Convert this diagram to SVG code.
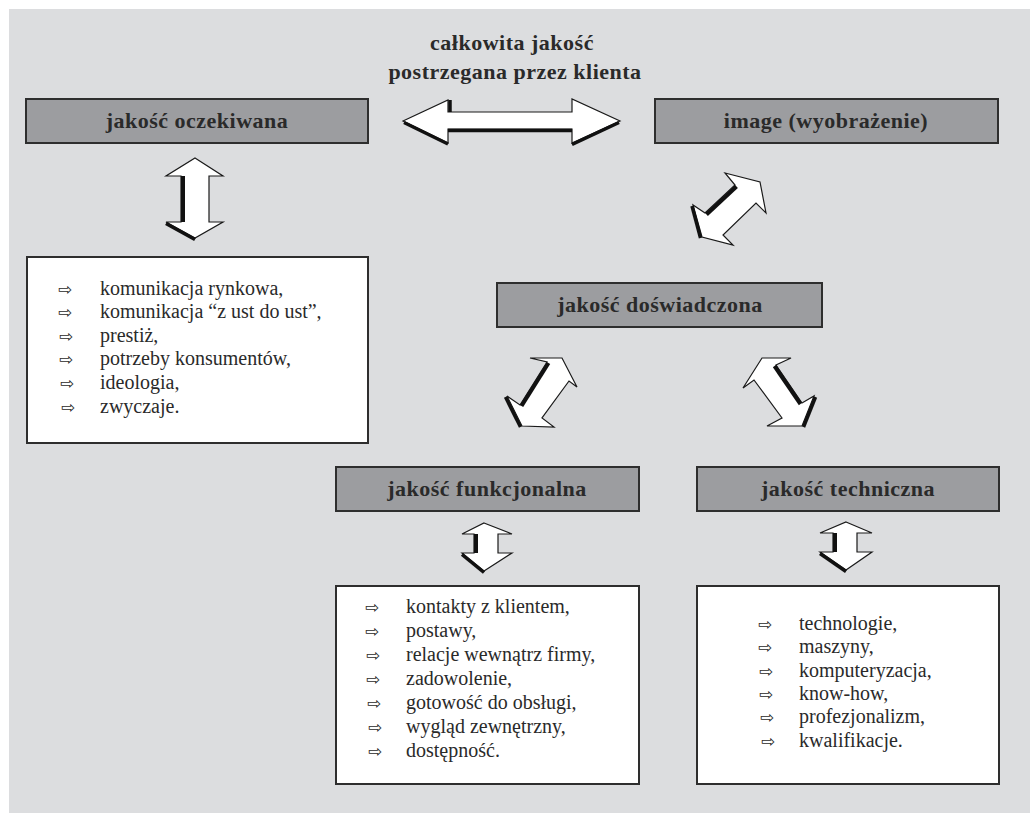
<svg xmlns="http://www.w3.org/2000/svg" width="1030" height="813" viewBox="0 0 1030 813">
<style>
.bg{fill:#dcdddf}
.hb{fill:#9c9da0;stroke:#2e2e2e;stroke-width:2}
.lb{fill:#ffffff;stroke:#2e2e2e;stroke-width:2}
.ht{font-family:"Liberation Serif","DejaVu Serif",serif;font-weight:bold;font-size:22px;letter-spacing:0.5px;fill:#2a2a2a;text-anchor:middle}
.tt{font-family:"Liberation Serif","DejaVu Serif",serif;font-weight:bold;font-size:22px;letter-spacing:0.5px;fill:#2a2a2a;text-anchor:middle}
.li{font-family:"Liberation Serif","DejaVu Serif",serif;font-size:20px;fill:#2a2a2a}
.bu{font-family:"DejaVu Sans",sans-serif;font-size:17px;fill:#2a2a2a}
.ar{fill:#ffffff;stroke:#1a1a1a;stroke-width:1.2;stroke-linejoin:miter}
.sh{fill:none;stroke:#111;stroke-width:3.5;stroke-linecap:butt}
</style>
<rect class="bg" x="9" y="9" width="1021" height="804"/>
<text class="tt" x="512" y="50">całkowita jakość</text>
<text class="tt" x="515" y="79">postrzegana przez klienta</text>

<g id="connectors">
  <g id="arrow-h">
    <polygon class="ar" points="403,121 448,100 448,112 572,112 572,99 620,121 572,143 572,129 448,129 448,143"/>
    <polyline class="sh" points="404,122.5 448,144"/>
    <line class="sh" x1="448" y1="130.5" x2="572" y2="130.5"/>
    <line class="sh" x1="450" y1="100" x2="450" y2="112"/>
    <polyline class="sh" points="619,122.5 572,144.5"/>
  </g>
  <g id="arrow-v1">
    <polygon class="ar" points="195,158 223,176 209,176 209,222 223,222 195,238 166,222 181,222 181,176 166,176"/>
    <line class="sh" x1="183" y1="176" x2="183" y2="222" style="stroke-width:4"/>
    <polyline class="sh" points="166,223.5 195,239.5"/>
  </g>
  <g id="arrow-d1">
    <polygon class="ar" points="725,173 760,182 766,213 756,203 723,235 733,245 702,237 693,205 705,213 735,185"/>
    <line class="sh" x1="706.5" y1="214.5" x2="736.5" y2="186.5" style="stroke-width:4"/>
    <polyline class="sh" points="692,206 700.5,238"/>
  </g>
  <g id="arrow-d2">
    <polygon class="ar" points="530,358 562,358 577,387 569,381 542,418 554,427 522,426 507,396 520,405 547,362"/>
    <line class="sh" x1="548.5" y1="363" x2="521.5" y2="406" style="stroke-width:4"/>
    <polyline class="sh" points="505.5,397 520.5,427"/>
  </g>
  <g id="arrow-d3">
    <polygon class="ar" points="762,358 791,358 776,365 802,403 814,396 802,426 767,426 782,418 754,380 743,388"/>
    <line class="sh" x1="774.5" y1="366" x2="800.5" y2="404" style="stroke-width:4"/>
    <polyline class="sh" points="815.5,397 803.5,427"/>
  </g>
  <g id="arrow-v2">
    <polygon class="ar" points="484,523 512,534 498,534 498,553 512,553 484,571 462,553 474,553 474,534 462,534"/>
    <line class="sh" x1="476" y1="534" x2="476" y2="553" style="stroke-width:4"/>
    <polyline class="sh" points="462,554.5 484,572.5"/>
  </g>
  <g id="arrow-v3">
    <polygon class="ar" points="846,522 872,533 857,533 857,552 872,552 846,570 820,552 833,552 833,533 820,533"/>
    <line class="sh" x1="835" y1="533" x2="835" y2="552" style="stroke-width:4"/>
    <polyline class="sh" points="820,553.5 846,571.5"/>
  </g>
</g>

<g id="node-oczekiwana">
  <rect class="hb" x="26" y="99" width="342" height="44"/>
  <text class="ht" x="197" y="128">jakość oczekiwana</text>
</g>
<g id="node-image">
  <rect class="hb" x="655" y="99" width="343" height="44"/>
  <text class="ht" x="826" y="128">image (wyobrażenie)</text>
</g>
<g id="node-doswiadczona">
  <rect class="hb" x="497" y="283" width="325" height="44"/>
  <text class="ht" x="660" y="312">jakość doświadczona</text>
</g>
<g id="node-funkcjonalna">
  <rect class="hb" x="336" y="467" width="303" height="44"/>
  <text class="ht" x="487" y="496">jakość funkcjonalna</text>
</g>
<g id="node-techniczna">
  <rect class="hb" x="697" y="467" width="302" height="44"/>
  <text class="ht" x="848" y="496">jakość techniczna</text>
</g>

<g id="list-oczekiwana">
  <rect class="lb" x="27" y="257" width="341" height="186"/>
  <text class="bu" x="58" y="295">⇨</text><text class="li" x="100" y="295">komunikacja rynkowa,</text>
  <text class="bu" x="58" y="318">⇨</text><text class="li" x="100" y="318">komunikacja “z ust do ust”,</text>
  <text class="bu" x="59" y="342">⇨</text><text class="li" x="100" y="342">prestiż,</text>
  <text class="bu" x="59" y="365">⇨</text><text class="li" x="100" y="365">potrzeby konsumentów,</text>
  <text class="bu" x="60" y="389">⇨</text><text class="li" x="100" y="389">ideologia,</text>
  <text class="bu" x="61" y="413">⇨</text><text class="li" x="100" y="413">zwyczaje.</text>
</g>
<g id="list-funkcjonalna">
  <rect class="lb" x="336" y="586" width="303" height="198"/>
  <text class="bu" x="365" y="613">⇨</text><text class="li" x="406" y="613">kontakty z klientem,</text>
  <text class="bu" x="365" y="637">⇨</text><text class="li" x="406" y="637">postawy,</text>
  <text class="bu" x="366" y="661">⇨</text><text class="li" x="406" y="661">relacje wewnątrz firmy,</text>
  <text class="bu" x="366" y="685">⇨</text><text class="li" x="406" y="685">zadowolenie,</text>
  <text class="bu" x="367" y="709">⇨</text><text class="li" x="406" y="709">gotowość do obsługi,</text>
  <text class="bu" x="368" y="733">⇨</text><text class="li" x="406" y="733">wygląd zewnętrzny,</text>
  <text class="bu" x="368" y="757">⇨</text><text class="li" x="406" y="757">dostępność.</text>
</g>
<g id="list-techniczna">
  <rect class="lb" x="697" y="586" width="302" height="198"/>
  <text class="bu" x="758" y="630">⇨</text><text class="li" x="799" y="630">technologie,</text>
  <text class="bu" x="758" y="653">⇨</text><text class="li" x="799" y="653">maszyny,</text>
  <text class="bu" x="759" y="677">⇨</text><text class="li" x="799" y="677">komputeryzacja,</text>
  <text class="bu" x="759" y="700">⇨</text><text class="li" x="799" y="700">know-how,</text>
  <text class="bu" x="760" y="723">⇨</text><text class="li" x="799" y="723">profezjonalizm,</text>
  <text class="bu" x="761" y="747">⇨</text><text class="li" x="799" y="747">kwalifikacje.</text>
</g>
</svg>
